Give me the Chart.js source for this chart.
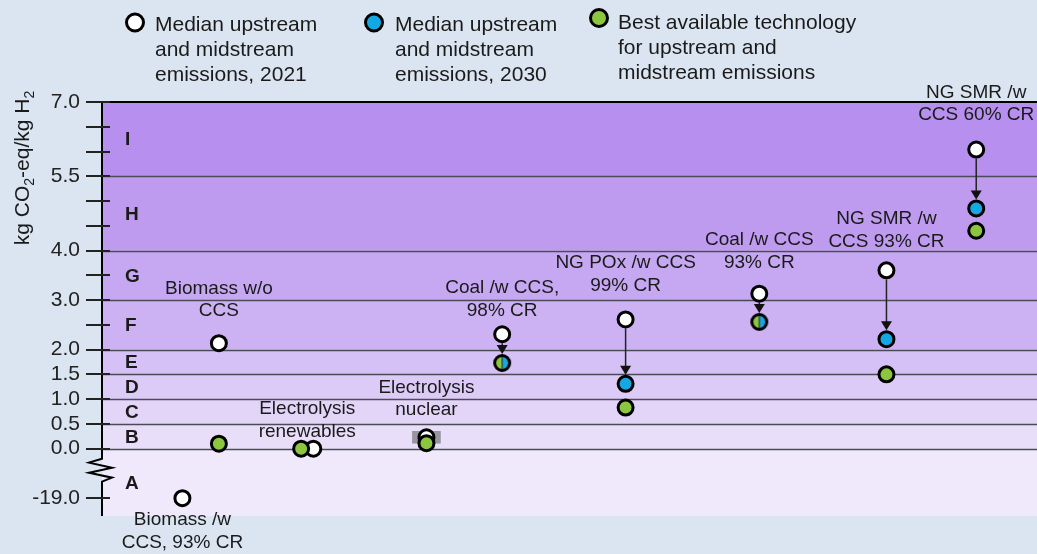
<!DOCTYPE html>
<html>
<head>
<meta charset="utf-8">
<script src="https://cdn.jsdelivr.net/npm/chart.js@4.4.0/dist/chart.umd.min.js"></script>
<style>
html, body { margin: 0; padding: 0; background: #dbe5f1; }
#wrap { width: 1037px; height: 554px; position: relative; }
</style>
</head>
<body>
<div id="wrap"><canvas id="ghgChart"></canvas></div>
<script>
// technologies, left to right
const techNames = [
    ['Biomass /w', 'CCS, 93% CR'],
    ['Biomass w/o', 'CCS'],
    ['Electrolysis', 'renewables'],
    ['Electrolysis', 'nuclear'],
    ['Coal /w CCS,', '98% CR'],
    ['NG POx /w CCS', '99% CR'],
    ['Coal /w CCS', '93% CR'],
    ['NG SMR /w', 'CCS 93% CR'],
    ['NG SMR /w', 'CCS 60% CR']
];
const techX = [0.86, 1.25, 2.26, 3.47, 4.28, 5.6, 7.03, 8.39, 9.35];
const bestDodge = [0, 0, -0.13, 0, 0, 0, 0, 0, 0];

// kg CO2-eq / kg H2
const median2021 = [-19.0, 2.13, 0.0, 0.23, 2.31, 2.61, 3.13, 3.6, 6.04];
const median2030 = [null, null, null, null, 1.73, 1.31, 2.56, 2.21, 4.85];
const bestAvailable = [null, 0.10, 0.0, 0.11, 1.73, 0.83, 2.56, 1.5, 4.40];
const nuclearRange = [0.11, 0.35];

const yTicks = [-19.0, 0.0, 0.5, 1.0, 1.5, 2.0, 3.0, 4.0, 5.5, 7.0];
const yMinorTicks = [2.5, 3.5, 4.5, 5.0, 6.0, 6.5];
const bandNames = ['A', 'B', 'C', 'D', 'E', 'F', 'G', 'H', 'I'];
const bandTops = [0.0, 0.5, 1.0, 1.5, 2.0, 3.0, 4.0, 5.5, 7.0];

const legendItems = [
    ['Median upstream', 'and midstream', 'emissions, 2021'],
    ['Median upstream', 'and midstream', 'emissions, 2030'],
    ['Best available technology', 'for upstream and', 'midstream emissions']
];

// label baselines (axis units) for the technology names
const labelBase = [-1.55, 3.13, 0.69, 1.13, 3.14, 3.64, 4.11, 4.53, 7.09];

const FONT = '"Liberation Sans", Arial, sans-serif';
const ink = '#1a1a1a';
const cWhite = '#ffffff', cBlue = '#13a8e4', cGreen = '#8cc63f';
const bandColors = ['#efe9fb', '#e8def9', '#e2d5f8', '#dccbf6', '#d5c1f5', '#cdb2f3', '#c6a8f2', '#bf9bf0', '#b78fee'];

// the axis is broken below zero: negatives are squeezed 19x
const toAxis = v => v < 0 ? v / 19 : v;
const fromAxis = v => v < 0 ? v * 19 : v;
const yMin = -1.36;

function splitMarker() {
    const c = document.createElement('canvas');
    c.width = 22; c.height = 22;
    const g = c.getContext('2d');
    g.beginPath(); g.arc(11, 11, 7.5, Math.PI / 2, Math.PI * 1.5); g.fillStyle = cGreen; g.fill();
    g.beginPath(); g.arc(11, 11, 7.5, -Math.PI / 2, Math.PI / 2); g.fillStyle = cBlue; g.fill();
    g.beginPath(); g.moveTo(11, 4); g.lineTo(11, 18); g.strokeStyle = '#333'; g.lineWidth = 1.2; g.stroke();
    g.beginPath(); g.arc(11, 11, 7.5, 0, Math.PI * 2); g.lineWidth = 3; g.strokeStyle = '#000'; g.stroke();
    return c;
}

const idx = techNames.map((_, i) => i);
const same = i => median2030[i] !== null && median2030[i] === bestAvailable[i];

const whitePts = idx.map(i => ({ x: techX[i], y: toAxis(median2021[i]) }));
const bluePts = idx.filter(i => median2030[i] !== null && !same(i))
    .map(i => ({ x: techX[i], y: toAxis(median2030[i]) }));
const greenPts = idx.filter(i => bestAvailable[i] !== null && !same(i))
    .map(i => ({ x: techX[i] + bestDodge[i], y: toAxis(bestAvailable[i]) }));
const splitPts = idx.filter(same).map(i => ({ x: techX[i], y: toAxis(median2030[i]) }));

function dot(ctx, x, y, r, fill) {
    ctx.beginPath();
    ctx.arc(x, y, r, 0, Math.PI * 2);
    ctx.fillStyle = fill; ctx.fill();
    ctx.lineWidth = 3; ctx.strokeStyle = '#000'; ctx.stroke();
}

const bandsPlugin = {
    id: 'bands',
    beforeDraw(chart) {
        const { ctx, chartArea: a, scales: { y } } = chart;
        ctx.save();
        let lo = yMin;
        bandTops.forEach((top, k) => {
            const y0 = y.getPixelForValue(lo), y1 = y.getPixelForValue(top);
            ctx.fillStyle = bandColors[k];
            ctx.fillRect(a.left, y1, a.right - a.left, y0 - y1);
            lo = top;
        });
        ctx.restore();
    },
    beforeDatasetsDraw(chart) {
        const { ctx, chartArea: a, scales: { y } } = chart;
        ctx.save();
        // band borders
        ctx.strokeStyle = '#4b4b58';
        ctx.lineWidth = 1.5;
        bandTops.slice(0, -1).forEach(v => {
            const py = Math.round(y.getPixelForValue(v)) + 0.5;
            ctx.beginPath(); ctx.moveTo(a.left, py); ctx.lineTo(a.right, py); ctx.stroke();
        });
        ctx.strokeStyle = '#000';
        ctx.lineWidth = 2;
        const top = y.getPixelForValue(7.0);
        ctx.beginPath(); ctx.moveTo(a.left, top); ctx.lineTo(a.right, top); ctx.stroke();

        // axis line with break
        const z0 = y.getPixelForValue(0) + 10;
        ctx.beginPath();
        ctx.moveTo(a.left, a.top);
        ctx.lineTo(a.left, z0);
        ctx.lineTo(a.left - 13, z0 + 4);
        ctx.lineTo(a.left + 10, z0 + 9);
        ctx.lineTo(a.left - 13, z0 + 14);
        ctx.lineTo(a.left + 10, z0 + 19);
        ctx.lineTo(a.left, z0 + 23);
        ctx.lineTo(a.left, a.bottom);
        ctx.stroke();

        // tick marks
        ctx.lineWidth = 2;
        ctx.strokeStyle = '#222';
        yTicks.concat(yMinorTicks).forEach(v => {
            const py = Math.round(y.getPixelForValue(toAxis(v)));
            ctx.beginPath(); ctx.moveTo(a.left - 16, py); ctx.lineTo(a.left + 8, py); ctx.stroke();
        });

        // band letters
        ctx.fillStyle = ink;
        ctx.font = 'bold 19px ' + FONT;
        ctx.textAlign = 'left';
        ctx.textBaseline = 'middle';
        let lo = yMin;
        bandTops.forEach((t, k) => {
            ctx.fillText(bandNames[k], a.left + 23, y.getPixelForValue((lo + t) / 2) + 1);
            lo = t;
        });

        // arrows 2021 -> 2030
        const x = chart.scales.x;
        ctx.strokeStyle = '#222';
        ctx.fillStyle = '#111';
        ctx.lineWidth = 1.5;
        idx.forEach(i => {
            if (median2030[i] === null) return;
            const px = x.getPixelForValue(techX[i]);
            const y1 = y.getPixelForValue(toAxis(median2021[i])) + 9;
            const tip = y.getPixelForValue(toAxis(median2030[i])) - 9;
            ctx.beginPath(); ctx.moveTo(px, y1); ctx.lineTo(px, tip - 8); ctx.stroke();
            ctx.beginPath();
            ctx.moveTo(px - 5.5, tip - 9); ctx.lineTo(px + 5.5, tip - 9); ctx.lineTo(px, tip);
            ctx.closePath(); ctx.fill();
        });
        ctx.restore();
    },
    afterDraw(chart) {
        const { ctx, scales: { x, y } } = chart;
        ctx.save();
        // technology labels
        ctx.fillStyle = ink;
        ctx.font = '19px ' + FONT;
        ctx.textAlign = 'center';
        ctx.textBaseline = 'alphabetic';
        idx.forEach(i => {
            const px = x.getPixelForValue(techX[i] + bestDodge[i] / 2);
            const py = y.getPixelForValue(labelBase[i]);
            techNames[i].forEach((line, k) => ctx.fillText(line, px, py + k * 22.5));
        });

        // legend
        const marks = [[135, 22.5, cWhite, 155, 31], [374, 22.5, cBlue, 395, 31], [599, 18, cGreen, 618, 28.5]];
        ctx.font = '21px ' + FONT;
        ctx.textAlign = 'left';
        marks.forEach((m, k) => {
            dot(ctx, m[0], m[1], 8.5, m[2]);
            ctx.fillStyle = ink;
            legendItems[k].forEach((line, j) => ctx.fillText(line, m[3], m[4] + j * 25));
        });

        // y-axis title with subscripts
        ctx.translate(29, 168);
        ctx.rotate(-Math.PI / 2);
        const parts = [['kg CO', 0], ['2', 1], ['-eq/kg H', 0], ['2', 1]];
        const f = s => (s ? '14px ' : '21px ') + FONT;
        let w = 0;
        parts.forEach(p => { ctx.font = f(p[1]); w += ctx.measureText(p[0]).width; });
        let cx = -w / 2;
        parts.forEach(p => {
            ctx.font = f(p[1]);
            ctx.fillText(p[0], cx, p[1] ? 5 : 0);
            cx += ctx.measureText(p[0]).width;
        });
        ctx.restore();
    }
};

const marker = splitMarker();
const pt = (fill, order, data, label) => ({
    type: 'scatter', label, data, order,
    pointStyle: 'circle', pointRadius: 7.5, pointHoverRadius: 7.5,
    pointBackgroundColor: fill, pointBorderColor: '#000', pointBorderWidth: 3
});

Chart.defaults.font.family = FONT;
new Chart(document.getElementById('ghgChart'), {
    type: 'scatter',
    data: {
        datasets: [
            pt(cGreen, 0, greenPts, 'Best available'),
            { type: 'scatter', label: '2030 = best', data: splitPts, order: 1,
              pointStyle: marker, pointRadius: 11 },
            pt(cBlue, 2, bluePts, 'Median 2030'),
            pt(cWhite, 3, whitePts, 'Median 2021'),
            { type: 'bar', label: 'Nuclear range', order: 4, grouped: false,
              data: [{ x: techX[3], y: nuclearRange }],
              backgroundColor: '#9696a0', barThickness: 28, borderWidth: 0 }
        ]
    },
    options: {
        responsive: true,
        maintainAspectRatio: false,
        animation: false,
        layout: { autoPadding: false, padding: { left: 0, right: 0, top: 102, bottom: 38 } },
        plugins: { legend: { display: false }, tooltip: { enabled: false } },
        scales: {
            x: { type: 'linear', min: 0, max: 10, offset: false, display: false },
            y: {
                type: 'linear', min: yMin, max: 7.0, beginAtZero: false,
                afterFit: s => { s.width = 102; },
                afterBuildTicks: s => { s.ticks = yTicks.map(v => ({ value: toAxis(v) })); },
                grid: { display: false, drawTicks: false },
                border: { display: false },
                ticks: {
                    autoSkip: false, padding: 22, color: '#222',
                    font: { size: 21 },
                    callback: v => fromAxis(v).toFixed(1)
                }
            }
        }
    },
    plugins: [bandsPlugin]
});
</script>
</body>
</html>
